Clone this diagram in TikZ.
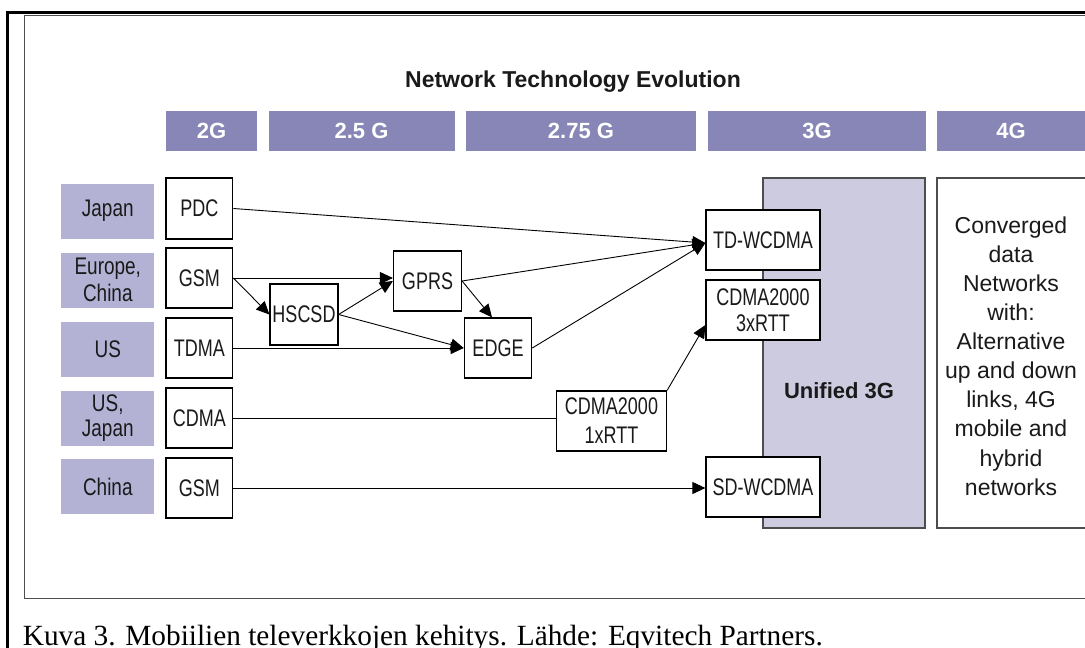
\documentclass[tikz,border=0pt]{standalone}
\usepackage{fontspec}
\setmainfont{Liberation Sans}
\newfontfamily\capfont{Liberation Serif}
\newfontfamily\boxfont[FakeStretch=0.75]{Liberation Sans}
\newfontfamily\lblfont[FakeStretch=0.79]{Liberation Sans}
\usetikzlibrary{arrows.meta,calc}

\definecolor{barcol}{HTML}{8886B6}
\definecolor{lblcol}{HTML}{B3B2D4}
\definecolor{unicol}{HTML}{CDCBE0}
\definecolor{framegray}{HTML}{4D4D4D}
\definecolor{ink}{HTML}{1A1A1A}

\begin{document}
\begin{tikzpicture}[x=1pt,y=-1pt,
  bar/.style={fill=barcol, text=white, font=\fontsize{22}{26}\selectfont\bfseries,
    minimum height=40pt, inner sep=0pt},
  region/.style={fill=lblcol, text=ink, font=\lblfont\fontsize{24}{27}\selectfont,
    minimum width=93pt, minimum height=55pt, inner sep=0pt, align=center},
  tech/.style={draw=black, line width=1.2pt, fill=white, text=ink,
    font=\boxfont\fontsize{24}{27}\selectfont, inner sep=0pt,
    minimum height=60pt, align=center},
  link/.style={line width=0.9pt},
  arr/.style={link, -{Triangle[length=13pt,width=12pt]}},
]
\useasboundingbox (0,0) rectangle (1085,648);
\clip (0,0) rectangle (1085,648);

% frames
\draw[line width=2.6pt] (7.6,12.2) rectangle (1100,700);
\draw[framegray, line width=1.3pt] (24.8,15.4) rectangle (1100,598.5);

% title
\node[anchor=base, font=\bfseries\fontsize{23}{26}\selectfont, text=ink, inner sep=0pt]
  (title) at (573,87) {Network Technology Evolution};

% generation bars
\node[bar, minimum width=91pt]  (g2)  at (211.5,131) {2G};
\node[bar, minimum width=186pt] (g25) at (361.5,131) {2.5 G};
\node[bar, minimum width=230pt] (g275) at (581,131) {2.75 G};
\node[bar, minimum width=218pt] (g3)  at (817,131) {3G};
\node[bar, minimum width=160pt] (g4)  at (1017,131) {};
\node[text=white, font=\fontsize{22}{26}\selectfont\bfseries, inner sep=0pt] (g4t) at (1011,131) {4G};

% regions
\node[region] (rjp) at (107.8,211) {Japan};
\node[region] (reu) at (107.8,280) {Europe,\\China};
\node[region] (rus) at (107.8,349) {US};
\node[region, font=\lblfont\fontsize{24}{25}\selectfont] (rusj) at (107.8,418) {US,\\Japan};
\node[region] (rcn) at (107.8,486.5) {China};

% unified 3G and 4G panels
\node[draw=framegray, fill=unicol, line width=1.2pt, minimum width=162pt,
  minimum height=350pt, inner sep=0pt] (uni) at (844,353) {};
\node[font=\bfseries\fontsize{22}{26}\selectfont, text=ink, inner sep=0pt]
  (unit) at (839,391) {Unified 3G};
\node[draw=framegray, fill=white, line width=1.2pt, minimum width=160pt,
  minimum height=350pt, inner sep=0pt] (conv) at (1017,353) {};
\node[align=center, text=ink, font=\fontsize{23}{29.1}\selectfont, inner sep=0pt]
  (convt) at (1011,356) {Converged\\data\\Networks\\with:\\Alternative\\up and down\\links, 4G\\mobile and\\hybrid\\networks};

% 2G technologies
\node[tech, minimum width=66.8pt, minimum height=61pt] (pdc) at (199.4,208.5) {PDC};
\node[tech, minimum width=66.8pt] (gsm) at (199.4,278) {GSM};
\node[tech, minimum width=66.8pt] (tdma) at (199.4,348) {TDMA};
\node[tech, minimum width=66.8pt] (cdma) at (199.4,418) {CDMA};
\node[tech, minimum width=66.8pt] (gsmc) at (199.4,488) {GSM};

% 2.5G / 2.75G technologies
\node[tech, minimum width=68pt, minimum height=61pt] (hscsd) at (304,314.5) {HSCSD};
\node[tech, minimum width=68pt] (gprs) at (427.5,281) {GPRS};
\node[tech, minimum width=67.4pt] (edge) at (498,348) {EDGE};
\node[tech, minimum width=110pt, font=\boxfont\fontsize{24}{29}\selectfont]
  (x1) at (611.5,421) {CDMA2000\\1xRTT};

% 3G technologies
\node[tech, minimum width=114pt] (td) at (763,240) {TD-WCDMA};
\node[tech, minimum width=114pt, font=\boxfont\fontsize{24}{26}\selectfont]
  (x3) at (763,310) {CDMA2000\\3xRTT};
\node[tech, minimum width=114pt] (sd) at (763,487) {SD-WCDMA};

\coordinate (tdin) at ($(td.west)+(0,3)$);

% connectors
\draw[arr] (pdc.east) -- (tdin);
\draw[arr] (gsm.east) -- (gsm.east -| gprs.west);
\draw[arr] (gsm.east) -- (hscsd.west);
\draw[arr] (hscsd.east) -- (gprs.west);
\draw[arr] (hscsd.east) -- (edge.west);
\draw[arr] (tdma.east) -- (edge.west);
\draw[arr] (gprs.east) -- ($(edge.north)+(-6,0)$);
\draw[arr] (gprs.east) -- (tdin);
\draw[arr] (edge.east) -- (tdin);
\draw[link] (cdma.east) -- (cdma.east -| x1.west);
\draw[arr] (x1.north east) -- ($(x3.west)+(0,15)$);
\draw[arr] (gsmc.east) -- (gsmc.east -| sd.west);

% caption
\node[anchor=base west, font=\capfont\fontsize{29.3}{32}\selectfont, inner sep=0pt]
  (cap) at (22.7,645) {Kuva 3. Mobiilien televerkkojen kehitys. Lähde: Eqvitech Partners.};
\end{tikzpicture}
\end{document}
